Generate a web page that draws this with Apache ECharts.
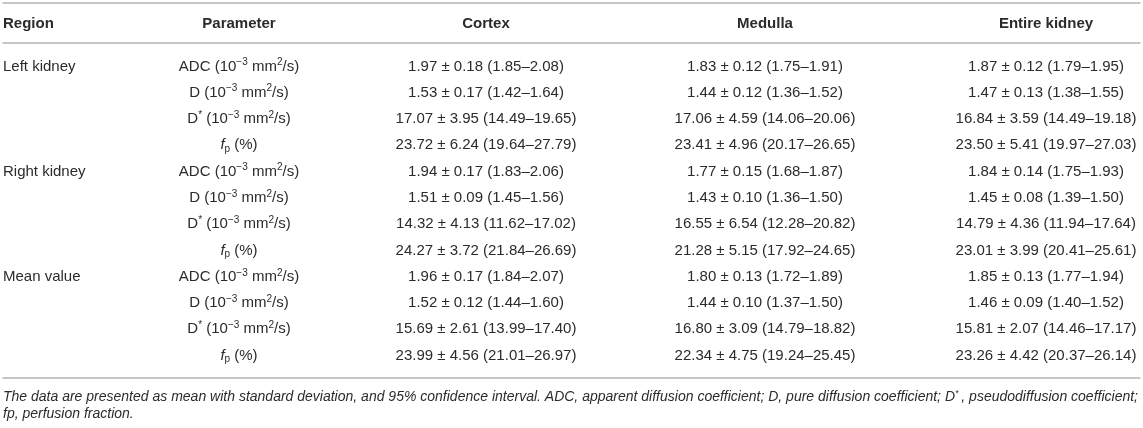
<!DOCTYPE html>
<html>
<head>
<meta charset="utf-8">
<script src="https://cdn.jsdelivr.net/npm/echarts@6/dist/echarts.min.js"></script>
<style>
html,body{margin:0;padding:0;background:#fff;}
#chart{width:1143px;height:428px;}
</style>
</head>
<body>
<div id="chart"></div>
<script>
// ---------- DATA ----------
const headers = ['Region', 'Parameter', 'Cortex', 'Medulla', 'Entire kidney'];
const regions = ['Left kidney', 'Right kidney', 'Mean value'];
const parameters = ['ADC', 'D', 'D*', 'fp'];

const cortexMean = [1.97, 1.53, 17.07, 23.72, 1.94, 1.51, 14.32, 24.27, 1.96, 1.52, 15.69, 23.99];
const cortexSD   = [0.18, 0.17, 3.95, 6.24, 0.17, 0.09, 4.13, 3.72, 0.17, 0.12, 2.61, 4.56];
const cortexLo   = [1.85, 1.42, 14.49, 19.64, 1.83, 1.45, 11.62, 21.84, 1.84, 1.44, 13.99, 21.01];
const cortexHi   = [2.08, 1.64, 19.65, 27.79, 2.06, 1.56, 17.02, 26.69, 2.07, 1.60, 17.40, 26.97];

const medullaMean = [1.83, 1.44, 17.06, 23.41, 1.77, 1.43, 16.55, 21.28, 1.80, 1.44, 16.80, 22.34];
const medullaSD   = [0.12, 0.12, 4.59, 4.96, 0.15, 0.10, 6.54, 5.15, 0.13, 0.10, 3.09, 4.75];
const medullaLo   = [1.75, 1.36, 14.06, 20.17, 1.68, 1.36, 12.28, 17.92, 1.72, 1.37, 14.79, 19.24];
const medullaHi   = [1.91, 1.52, 20.06, 26.65, 1.87, 1.50, 20.82, 24.65, 1.89, 1.50, 18.82, 25.45];

const entireMean = [1.87, 1.47, 16.84, 23.50, 1.84, 1.45, 14.79, 23.01, 1.85, 1.46, 15.81, 23.26];
const entireSD   = [0.12, 0.13, 3.59, 5.41, 0.14, 0.08, 4.36, 3.99, 0.13, 0.09, 2.07, 4.42];
const entireLo   = [1.79, 1.38, 14.49, 19.97, 1.75, 1.39, 11.94, 20.41, 1.77, 1.40, 14.46, 20.37];
const entireHi   = [1.95, 1.55, 19.18, 27.03, 1.93, 1.50, 17.64, 25.61, 1.94, 1.52, 17.17, 26.14];

const captionLine1 = 'The data are presented as mean with standard deviation, and 95% confidence interval. ADC, apparent diffusion coefficient; D, pure diffusion coefficient; D*, pseudodiffusion coefficient;';
const captionLine2 = 'fp, perfusion fraction.';

// ---------- LAYOUT / STYLE ----------
const FONT = '"Liberation Sans", Arial, Helvetica, sans-serif';
const TXT = '#2b2b2b';
const LINE = '#b4b4b4';
const TABLE_W = 1137;
const CAP_SIZE = 14;
const colAnchor = [0, 236, 483, 762, 1043]; // x-axis positions of column anchors
const colAlign = ['left', 'center', 'center', 'center', 'center'];

const rich = {
  n:   { fontSize: 15, fontFamily: FONT, color: TXT, lineHeight: 18 },
  it:  { fontSize: 15, fontFamily: FONT, color: TXT, lineHeight: 18, fontStyle: 'italic' },
  sup: { fontSize: 10, fontFamily: FONT, color: TXT, lineHeight: 11, verticalAlign: 'top' },
  sub: { fontSize: 10, fontFamily: FONT, color: TXT, lineHeight: 10, verticalAlign: 'bottom' }
};
const unitRich = '{n| (10}{sup|\u22123}{n| mm}{sup|2}{n|/s)}';
function paramText(p) {
  if (p === 'ADC') return '{n|ADC}' + unitRich;
  if (p === 'D') return '{n|D}' + unitRich;
  if (p === 'D*') return '{n|D}{sup|*}' + unitRich;
  if (p === 'fp') return '{it|f}{sub|p}{n| (%)}';
  return '{n|' + p + '}';
}
function cell(m, s, lo, hi) {
  return m.toFixed(2) + ' \u00b1 ' + s.toFixed(2) + ' (' + lo.toFixed(2) + '\u2013' + hi.toFixed(2) + ')';
}

// ----- justified caption (first line spans the table width) -----
const mctx = document.createElement('canvas').getContext('2d');
function measure(t, size) {
  mctx.font = 'italic ' + size + 'px ' + FONT;
  return mctx.measureText(t).width;
}
const capWords = captionLine1.split(' ');
let wordsW = 0;
const wordTokens = capWords.map(function (w) {
  if (w.indexOf('*') >= 0) {
    const parts = w.split('*');
    wordsW += measure(parts[0], CAP_SIZE) + measure('\u2009' + parts[1], CAP_SIZE) + measure('*', 9);
    return '{c|' + parts[0] + '}{s|*}{c|\u2009' + parts[1] + '}';
  }
  wordsW += measure(w, CAP_SIZE);
  return '{c|' + w + '}';
});
const nGaps = capWords.length - 1;
const gapW = Math.max(2, (TABLE_W - 2 - wordsW) / nGaps);
const captionText = wordTokens.join('{g|\u00a0}') + '\n{c|' + captionLine2 + '}';

const nRows = cortexMean.length;
const bodyData = [];
for (let i = 0; i < nRows; i++) bodyData.push([0, i]);

function textEl(x, y, text, align, extra) {
  return {
    type: 'text',
    style: Object.assign({
      x: x, y: y, text: text, align: align, verticalAlign: 'middle',
      fill: TXT, fontSize: 15, fontFamily: FONT, rich: rich
    }, extra || {})
  };
}

const chart = echarts.init(document.getElementById('chart'), null, { renderer: 'canvas' });

const hiddenAxisBase = {
  axisLabel: { show: false }, axisTick: { show: false }, splitLine: { show: false }
};

chart.setOption({
  animation: false,
  backgroundColor: '#fff',
  title: {
    left: 3, top: 389, padding: 0,
    text: captionText,
    textStyle: {
      fontSize: CAP_SIZE, fontStyle: 'italic', fontWeight: 'normal', color: TXT, fontFamily: FONT, lineHeight: 17,
      rich: {
        c: { fontSize: CAP_SIZE, fontStyle: 'italic', fontFamily: FONT, color: TXT, lineHeight: 17 },
        g: { fontSize: CAP_SIZE, fontStyle: 'italic', fontFamily: FONT, color: TXT, lineHeight: 17, width: gapW },
        s: { fontSize: 9, fontStyle: 'italic', fontFamily: FONT, color: TXT, lineHeight: 10, verticalAlign: 'top' }
      }
    }
  },
  grid: [
    { left: 3, right: 3, top: 43, bottom: 50 },
    { left: 3, right: 3, top: 3, height: 40 }
  ],
  xAxis: [
    Object.assign({ type: 'value', gridIndex: 0, position: 'top', min: 0, max: TABLE_W,
      axisLine: { show: true, onZero: false, lineStyle: { color: LINE, width: 1.5 } } }, hiddenAxisBase),
    Object.assign({ type: 'value', gridIndex: 0, position: 'bottom', min: 0, max: TABLE_W,
      axisLine: { show: true, onZero: false, lineStyle: { color: LINE, width: 1.5 } } }, hiddenAxisBase),
    Object.assign({ type: 'value', gridIndex: 1, position: 'top', min: 0, max: TABLE_W,
      axisLine: { show: true, onZero: false, lineStyle: { color: LINE, width: 1.5 } } }, hiddenAxisBase)
  ],
  yAxis: [
    Object.assign({ type: 'value', gridIndex: 0, inverse: true, min: -0.89, max: 11.85,
      axisLine: { show: false } }, hiddenAxisBase),
    Object.assign({ type: 'value', gridIndex: 1, inverse: true, min: 0, max: 1,
      axisLine: { show: false } }, hiddenAxisBase)
  ],
  series: [
    {
      type: 'custom',
      xAxisIndex: 0, yAxisIndex: 0,
      data: bodyData,
      encode: { x: 0, y: 1 },
      renderItem: function (params, api) {
        const i = api.value(1);
        const y = api.coord([0, i])[1];
        const cx = colAnchor.map(function (a) { return api.coord([a, i])[0]; });
        const children = [];
        if (i % parameters.length === 0) {
          children.push(textEl(cx[0], y, regions[Math.floor(i / parameters.length)], colAlign[0]));
        }
        children.push(textEl(cx[1], y, paramText(parameters[i % parameters.length]), colAlign[1]));
        children.push(textEl(cx[2], y, cell(cortexMean[i], cortexSD[i], cortexLo[i], cortexHi[i]), colAlign[2]));
        children.push(textEl(cx[3], y, cell(medullaMean[i], medullaSD[i], medullaLo[i], medullaHi[i]), colAlign[3]));
        children.push(textEl(cx[4], y, cell(entireMean[i], entireSD[i], entireLo[i], entireHi[i]), colAlign[4]));
        return { type: 'group', children: children };
      }
    },
    {
      type: 'custom',
      xAxisIndex: 2, yAxisIndex: 1,
      data: [[0, 0.5]],
      encode: { x: 0, y: 1 },
      renderItem: function (params, api) {
        const y = api.coord([0, 0.5])[1] + 1;
        const children = headers.map(function (h, k) {
          return textEl(api.coord([colAnchor[k], 0.5])[0], y, h, colAlign[k], { fontWeight: 'bold', rich: null });
        });
        return { type: 'group', children: children };
      }
    }
  ]
});
</script>
</body>
</html>
